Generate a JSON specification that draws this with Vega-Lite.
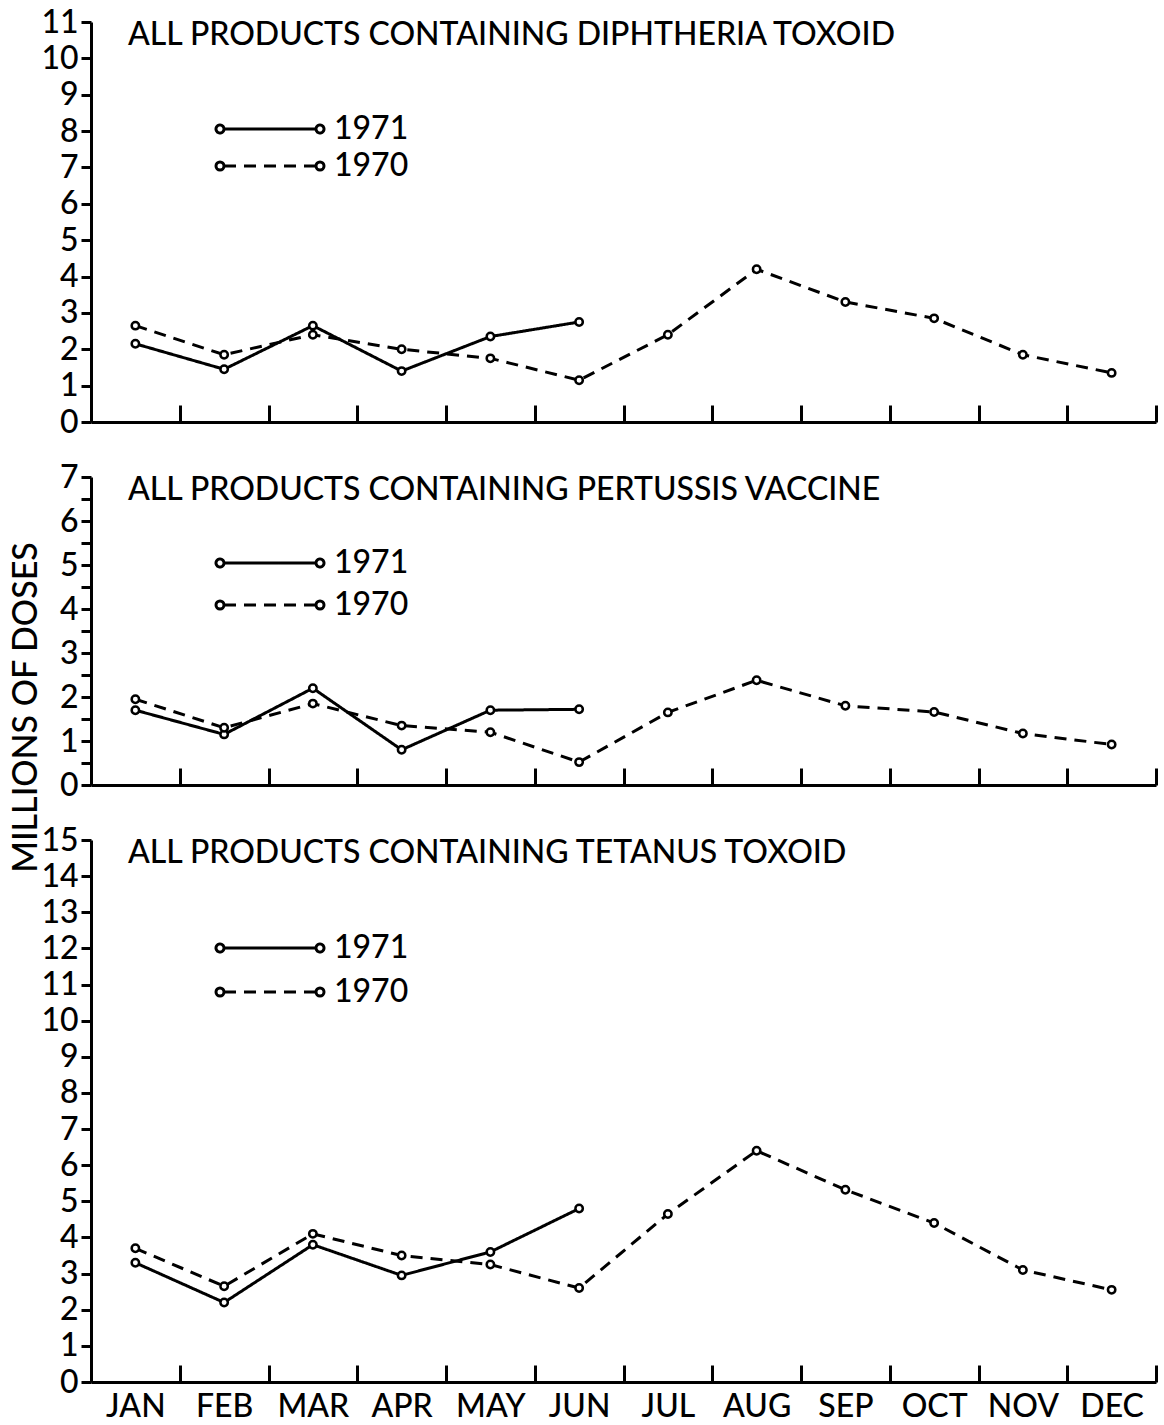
{
  "$schema": "https://vega.github.io/schema/vega-lite/v6.json",
  "background": "white",
  "padding": {"left": 9, "top": 6, "right": 5, "bottom": 0},
  "bounds": "flush",
  "spacing": 55,
  "resolve": {"scale": {"strokeDash": "independent"}, "legend": {"strokeDash": "independent"}},
  "config": {
    "font": "Lato",
    "view": {"stroke": null},
    "axis": {
      "domainColor": "black", "domainWidth": 3, "tickColor": "black", "tickWidth": 3,
      "labelColor": "black", "labelFont": "Lato", "labelFontSize": 32, "labelFontWeight": 500, "grid": false,
      "titleColor": "black", "titleFont": "Lato", "titleFontWeight": 500
    },
    "axisY": {"labelFontSize": 32},
    "title": {"font": "Lato", "fontSize": 32, "fontWeight": 500, "color": "black", "anchor": "start", "frame": "group", "dx": 37, "offset": -46, "baseline": "alphabetic"},
    "legend": {
      "title": null, "orient": "none", "padding": 0,
      "symbolType": "M-9.2,0L9.2,0M-10.8,0A0.8,0.8,0,0,1,-10,-0.8M-10,-0.8A0.8,0.8,0,0,1,-9.2,0M-9.2,0A0.8,0.8,0,0,1,-10,0.8M-10,0.8A0.8,0.8,0,0,1,-10.8,0M9.2,0A0.8,0.8,0,0,1,10,-0.8M10,-0.8A0.8,0.8,0,0,1,10.8,0M10.8,0A0.8,0.8,0,0,1,10,0.8M10,0.8A0.8,0.8,0,0,1,9.2,0",
      "symbolSize": 100, "symbolStrokeWidth": 3, "symbolStrokeColor": "black", "symbolFillColor": "white",
      "labelFont": "Lato", "labelFontSize": 32, "labelFontWeight": 500, "labelColor": "black", "labelOffset": 48
    }
  },
  "datasets": {
    "doses": [
      {"p": "D", "m": "JAN", "year": "1971", "v": 2.15},
      {"p": "D", "m": "FEB", "year": "1971", "v": 1.45},
      {"p": "D", "m": "MAR", "year": "1971", "v": 2.65},
      {"p": "D", "m": "APR", "year": "1971", "v": 1.4},
      {"p": "D", "m": "MAY", "year": "1971", "v": 2.35},
      {"p": "D", "m": "JUN", "year": "1971", "v": 2.75},
      {"p": "D", "m": "JAN", "year": "1970", "v": 2.65},
      {"p": "D", "m": "FEB", "year": "1970", "v": 1.85},
      {"p": "D", "m": "MAR", "year": "1970", "v": 2.4},
      {"p": "D", "m": "APR", "year": "1970", "v": 2.0},
      {"p": "D", "m": "MAY", "year": "1970", "v": 1.75},
      {"p": "D", "m": "JUN", "year": "1970", "v": 1.15},
      {"p": "D", "m": "JUL", "year": "1970", "v": 2.4},
      {"p": "D", "m": "AUG", "year": "1970", "v": 4.2},
      {"p": "D", "m": "SEP", "year": "1970", "v": 3.3},
      {"p": "D", "m": "OCT", "year": "1970", "v": 2.85},
      {"p": "D", "m": "NOV", "year": "1970", "v": 1.85},
      {"p": "D", "m": "DEC", "year": "1970", "v": 1.35},
      {"p": "P", "m": "JAN", "year": "1971", "v": 1.7},
      {"p": "P", "m": "FEB", "year": "1971", "v": 1.15},
      {"p": "P", "m": "MAR", "year": "1971", "v": 2.2},
      {"p": "P", "m": "APR", "year": "1971", "v": 0.8},
      {"p": "P", "m": "MAY", "year": "1971", "v": 1.7},
      {"p": "P", "m": "JUN", "year": "1971", "v": 1.72},
      {"p": "P", "m": "JAN", "year": "1970", "v": 1.95},
      {"p": "P", "m": "FEB", "year": "1970", "v": 1.3},
      {"p": "P", "m": "MAR", "year": "1970", "v": 1.85},
      {"p": "P", "m": "APR", "year": "1970", "v": 1.35},
      {"p": "P", "m": "MAY", "year": "1970", "v": 1.2},
      {"p": "P", "m": "JUN", "year": "1970", "v": 0.52},
      {"p": "P", "m": "JUL", "year": "1970", "v": 1.65},
      {"p": "P", "m": "AUG", "year": "1970", "v": 2.38},
      {"p": "P", "m": "SEP", "year": "1970", "v": 1.8},
      {"p": "P", "m": "OCT", "year": "1970", "v": 1.66},
      {"p": "P", "m": "NOV", "year": "1970", "v": 1.17},
      {"p": "P", "m": "DEC", "year": "1970", "v": 0.92},
      {"p": "T", "m": "JAN", "year": "1971", "v": 3.3},
      {"p": "T", "m": "FEB", "year": "1971", "v": 2.2},
      {"p": "T", "m": "MAR", "year": "1971", "v": 3.8},
      {"p": "T", "m": "APR", "year": "1971", "v": 2.95},
      {"p": "T", "m": "MAY", "year": "1971", "v": 3.6},
      {"p": "T", "m": "JUN", "year": "1971", "v": 4.8},
      {"p": "T", "m": "JAN", "year": "1970", "v": 3.7},
      {"p": "T", "m": "FEB", "year": "1970", "v": 2.65},
      {"p": "T", "m": "MAR", "year": "1970", "v": 4.1},
      {"p": "T", "m": "APR", "year": "1970", "v": 3.5},
      {"p": "T", "m": "MAY", "year": "1970", "v": 3.25},
      {"p": "T", "m": "JUN", "year": "1970", "v": 2.6},
      {"p": "T", "m": "JUL", "year": "1970", "v": 4.65},
      {"p": "T", "m": "AUG", "year": "1970", "v": 6.4},
      {"p": "T", "m": "SEP", "year": "1970", "v": 5.32},
      {"p": "T", "m": "OCT", "year": "1970", "v": 4.4},
      {"p": "T", "m": "NOV", "year": "1970", "v": 3.1},
      {"p": "T", "m": "DEC", "year": "1970", "v": 2.55}
    ]
  },
  "vconcat": [
    {
      "width": 1065, "height": 400,
      "data": {"name": "doses"},
      "transform": [{"filter": "datum.p == 'D'"}],
      "title": {"text": "ALL PRODUCTS CONTAINING DIPHTHERIA TOXOID"},
      "encoding": {
        "x": {"field": "m", "type": "ordinal", "sort": null,
          "scale": {"domain": ["JAN","FEB","MAR","APR","MAY","JUN","JUL","AUG","SEP","OCT","NOV","DEC"], "paddingInner": 0, "paddingOuter": 0},
          "axis": {"title": null, "labels": false, "tickSize": -17, "tickBand": "extent"}},
        "y": {"field": "v", "type": "quantitative", "scale": {"domain": [0, 11], "nice": false},
          "axis": {"title": null, "values": [0,1,2,3,4,5,6,7,8,9,10,11], "tickSize": 10, "labelPadding": 3}}
      },
      "layer": [
        {"mark": {"type": "line", "color": "black", "strokeWidth": 3},
         "encoding": {"strokeDash": {"field": "year", "type": "nominal",
           "scale": {"domain": ["1971", "1970"], "range": [[1, 0], [12, 8]]},
           "legend": {"legendX": 163, "legendY": 91, "rowPadding": 5}}}},
        {"mark": {"type": "point", "shape": "circle", "filled": true, "fill": "white", "stroke": "black", "strokeWidth": 2.5, "size": 55, "opacity": 1},
         "encoding": {"detail": {"field": "year"}}}
      ]
    },
    {
      "width": 1065, "height": 308,
      "data": {"name": "doses"},
      "transform": [{"filter": "datum.p == 'P'"}],
      "title": {"text": "ALL PRODUCTS CONTAINING PERTUSSIS VACCINE"},
      "encoding": {
        "x": {"field": "m", "type": "ordinal", "sort": null,
          "scale": {"domain": ["JAN","FEB","MAR","APR","MAY","JUN","JUL","AUG","SEP","OCT","NOV","DEC"], "paddingInner": 0, "paddingOuter": 0},
          "axis": {"title": null, "labels": false, "tickSize": -17, "tickBand": "extent"}},
        "y": {"field": "v", "type": "quantitative", "scale": {"domain": [0, 7], "nice": false},
          "axis": {"title": "MILLIONS OF DOSES", "titleFontSize": 34, "titleX": -65, "titleY": 230, "titleAngle": -90, "titleAlign": "center", "titleBaseline": "middle",
            "values": [0,0.5,1,1.5,2,2.5,3,3.5,4,4.5,5,5.5,6,6.5,7],
            "labelExpr": "datum.value % 1 == 0 ? '' + datum.value : ''", "tickSize": 10, "labelPadding": 3}}
      },
      "layer": [
        {"mark": {"type": "line", "color": "black", "strokeWidth": 3},
         "encoding": {"strokeDash": {"field": "year", "type": "nominal",
           "scale": {"domain": ["1971", "1970"], "range": [[1, 0], [12, 8]]},
           "legend": {"legendX": 163, "legendY": 70, "rowPadding": 10}}}},
        {"mark": {"type": "point", "shape": "circle", "filled": true, "fill": "white", "stroke": "black", "strokeWidth": 2.5, "size": 55, "opacity": 1},
         "encoding": {"detail": {"field": "year"}}}
      ]
    },
    {
      "width": 1065, "height": 542,
      "data": {"name": "doses"},
      "transform": [{"filter": "datum.p == 'T'"}],
      "title": {"text": "ALL PRODUCTS CONTAINING TETANUS TOXOID"},
      "encoding": {
        "x": {"field": "m", "type": "ordinal", "sort": null,
          "scale": {"domain": ["JAN","FEB","MAR","APR","MAY","JUN","JUL","AUG","SEP","OCT","NOV","DEC"], "paddingInner": 0, "paddingOuter": 0},
          "axis": {"title": null, "labels": true, "labelAngle": 0, "tickSize": -17, "tickBand": "extent", "labelPadding": 26}},
        "y": {"field": "v", "type": "quantitative", "scale": {"domain": [0, 15], "nice": false},
          "axis": {"title": null, "values": [0,1,2,3,4,5,6,7,8,9,10,11,12,13,14,15], "tickSize": 10, "labelPadding": 3}}
      },
      "layer": [
        {"mark": {"type": "line", "color": "black", "strokeWidth": 3},
         "encoding": {"strokeDash": {"field": "year", "type": "nominal",
           "scale": {"domain": ["1971", "1970"], "range": [[1, 0], [12, 8]]},
           "legend": {"legendX": 163, "legendY": 92, "rowPadding": 12}}}},
        {"mark": {"type": "point", "shape": "circle", "filled": true, "fill": "white", "stroke": "black", "strokeWidth": 2.5, "size": 55, "opacity": 1},
         "encoding": {"detail": {"field": "year"}}}
      ]
    }
  ]
}
